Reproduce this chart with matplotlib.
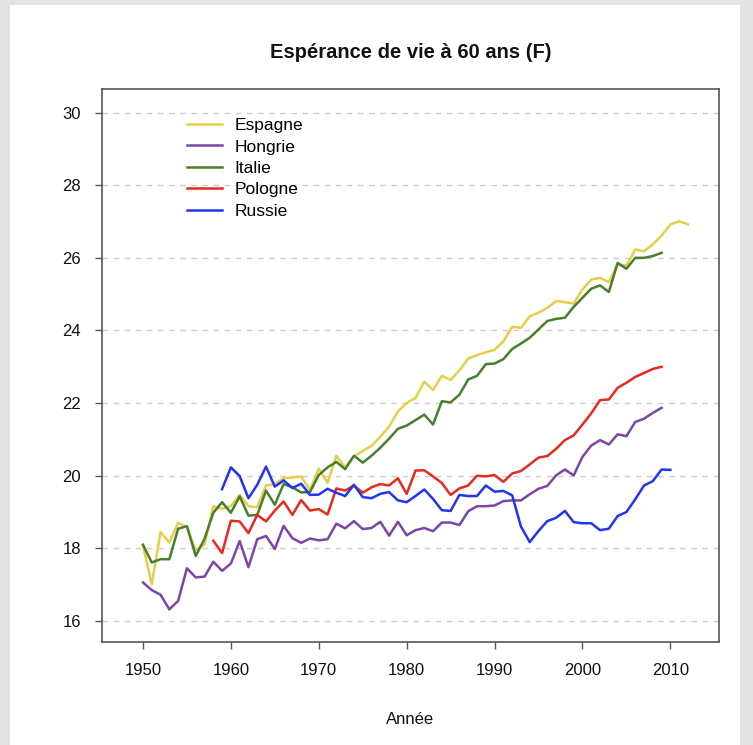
import numpy as np
import matplotlib
matplotlib.use("Agg")
import matplotlib.pyplot as plt
from matplotlib.patches import Rectangle

plt.rcParams['font.family'] = ['Liberation Sans', 'DejaVu Sans']

# life expectancy at 60, women
years_esp = list(range(1950, 2013))
espagne = [18.08, 17.01, 18.45, 18.16, 18.70, 18.58, 17.95, 18.10, 19.16, 19.09,
           19.16, 19.47, 19.16, 19.13, 19.73, 19.77, 19.93, 19.95, 19.98, 19.60,
           20.20, 19.80, 20.55, 20.23, 20.53, 20.68, 20.82, 21.07, 21.35, 21.77,
           22.00, 22.14, 22.59, 22.36, 22.75, 22.64, 22.90, 23.23, 23.32, 23.40,
           23.47, 23.70, 24.10, 24.07, 24.39, 24.49, 24.62, 24.81, 24.78, 24.74,
           25.13, 25.40, 25.45, 25.33, 25.82, 25.79, 26.23, 26.18, 26.37, 26.61,
           26.92, 27.01, 26.92]

years_hun = list(range(1950, 2010))
hongrie = [17.06, 16.85, 16.72, 16.32, 16.55, 17.45, 17.20, 17.22, 17.63, 17.38,
           17.58, 18.20, 17.48, 18.25, 18.34, 17.98, 18.62, 18.28, 18.15, 18.27,
           18.22, 18.25, 18.68, 18.55, 18.75, 18.53, 18.56, 18.73, 18.35, 18.73,
           18.36, 18.50, 18.56, 18.47, 18.71, 18.71, 18.64, 19.02, 19.16, 19.16,
           19.18, 19.30, 19.32, 19.32, 19.49, 19.64, 19.72, 20.01, 20.17, 20.01,
           20.52, 20.83, 20.98, 20.86, 21.14, 21.09, 21.48, 21.57, 21.73, 21.87]

years_ita = list(range(1950, 2010))
italie = [18.10, 17.61, 17.70, 17.70, 18.54, 18.61, 17.79, 18.26, 18.98, 19.27,
          18.98, 19.43, 18.90, 18.92, 19.59, 19.20, 19.77, 19.68, 19.54, 19.55,
          20.02, 20.23, 20.38, 20.18, 20.55, 20.36, 20.55, 20.77, 21.02, 21.29,
          21.38, 21.53, 21.68, 21.41, 22.05, 22.02, 22.23, 22.65, 22.75, 23.07,
          23.09, 23.21, 23.49, 23.64, 23.80, 24.03, 24.26, 24.32, 24.35, 24.65,
          24.90, 25.15, 25.24, 25.06, 25.86, 25.70, 26.00, 26.00, 26.05, 26.14]

years_pol = list(range(1958, 2010))
pologne = [18.21, 17.87,
           18.76, 18.74, 18.42, 18.92, 18.74, 19.04, 19.29, 18.92, 19.33, 19.04,
           19.08, 18.93, 19.65, 19.59, 19.73, 19.53, 19.68, 19.77, 19.73, 19.93,
           19.50, 20.14, 20.15, 19.98, 19.80, 19.47, 19.65, 19.73, 20.00, 19.98,
           20.02, 19.83, 20.06, 20.13, 20.31, 20.50, 20.54, 20.74, 20.98, 21.11,
           21.41, 21.72, 22.08, 22.10, 22.42, 22.56, 22.72, 22.83, 22.94, 23.00]

years_rus = list(range(1959, 2011))
russie = [19.63,
          20.23, 19.99, 19.38, 19.75, 20.25, 19.70, 19.87, 19.66, 19.78, 19.47,
          19.48, 19.64, 19.53, 19.44, 19.75, 19.41, 19.38, 19.50, 19.55, 19.32,
          19.27, 19.44, 19.62, 19.36, 19.05, 19.03, 19.47, 19.44, 19.44, 19.73,
          19.56, 19.58, 19.46, 18.60, 18.17, 18.48, 18.75, 18.84, 19.03, 18.72,
          18.69, 18.69, 18.50, 18.54, 18.89, 19.00, 19.35, 19.73, 19.85, 20.17,
          20.16]

series = [
    ("Espagne", years_esp, espagne, "#e6cf48"),
    ("Hongrie", years_hun, hongrie, "#7b46a8"),
    ("Italie", years_ita, italie, "#477f2c"),
    ("Pologne", years_pol, pologne, "#e8291e"),
    ("Russie", years_rus, russie, "#2334ee"),
]

W, H = 753, 745
fig = plt.figure(figsize=(W / 100, H / 100), dpi=100)
fig.patch.set_facecolor("#e4e4e4")
fig.patches.append(Rectangle((10 / W, 0), 730 / W, 1 - 5 / H,
                             transform=fig.transFigure, facecolor="white",
                             edgecolor="none", zorder=-10))

# axes box in pixels
left, right, top, bottom = 102, 719, 89, 642
ax = fig.add_axes([left / W, (H - bottom) / H, (right - left) / W, (bottom - top) / H])
ax.set_facecolor("white")
ax.set_zorder(5)

for name, yrs, vals, col in series:
    ax.plot(yrs, vals, color=col, lw=1.8, label=name, solid_joinstyle="round")

ax.set_xlim(1945.34, 2015.53)
ax.set_ylim(15.42, 30.65)
yt = np.arange(16, 31, 2)
ax.set_yticks(yt)
ax.set_xticks(np.arange(1950, 2011, 10))
for v in yt:
    ax.axhline(v, color="#cccccc", lw=1.0, ls=(0, (4, 4)), zorder=0)

for s in ax.spines.values():
    s.set_color("#555555")
    s.set_linewidth(1.2)
ax.tick_params(axis="both", direction="out", length=5, width=1.0,
               color="#555555", labelsize=12, labelcolor="#111111", pad=10)

ax.set_title("Espérance de vie à 60 ans (F)", fontsize=14.5, fontweight="bold",
             pad=22, color="#111111")
ax.set_xlabel("Année", fontsize=12, labelpad=24.5, color="#111111")

ax.legend(loc="upper left", bbox_to_anchor=(187 / W, 1 - 118 / H),
          bbox_transform=fig.transFigure, frameon=False, fontsize=12.5,
          handlelength=2.0, handletextpad=0.75, labelspacing=0.36,
          borderaxespad=0, borderpad=0)

fig.savefig("out.png", dpi=100)
